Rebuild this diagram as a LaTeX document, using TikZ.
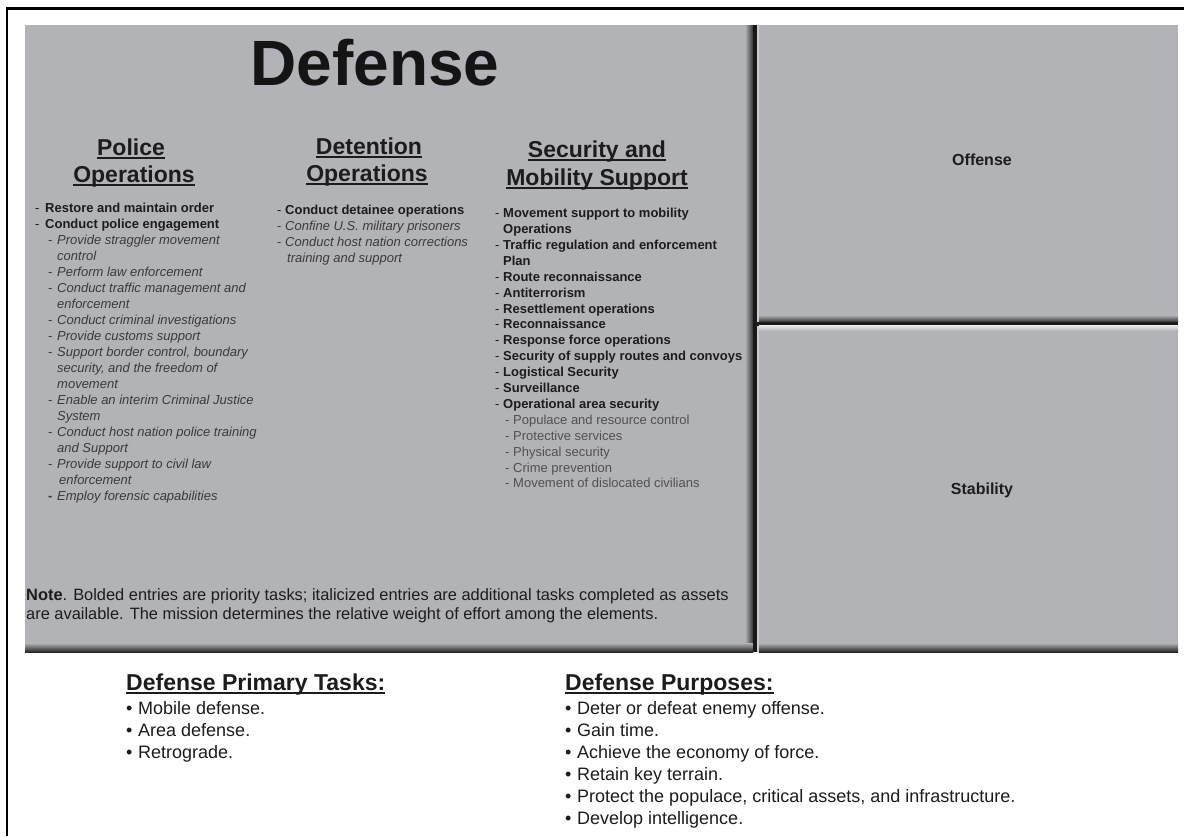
\documentclass[tikz,border=0pt]{standalone}
\usepackage{fontspec}
\setmainfont{Liberation Sans}
\definecolor{panelgray}{RGB}{178,179,183}
\definecolor{inkdark}{RGB}{28,28,30}
\definecolor{inkital}{RGB}{58,58,62}
\definecolor{inklight}{RGB}{80,80,84}
\newcommand{\ulx}[1]{\setbox0=\hbox{#1}\rlap{\rule[-4pt]{\wd0}{2pt}}\box0}
\newcommand{\pdash}{\makebox[10pt][l]{-}}
\newcommand{\sdash}{\hspace*{13pt}\makebox[9pt][l]{-}}
\newcommand{\cind}{\hspace*{22pt}}
\newcommand{\ddash}{\makebox[8pt][l]{-}}
\newcommand{\qdash}{\hspace*{10pt}\makebox[8pt][l]{-}}
\newcommand{\bul}{\makebox[12pt][l]{•}}
\begin{document}
\begin{tikzpicture}[x=1pt,y=-1pt,
  titletext/.style={font=\fontsize{64}{70}\selectfont\bfseries, text=black!92, inner sep=0, anchor=base},
  headtext/.style={font=\fontsize{23}{27}\selectfont\bfseries, text=inkdark, inner sep=0, anchor=base},
  tasklist/.style={font=\fontsize{13}{16}\selectfont, align=left, inner sep=0, anchor=north west, text=inkdark},
  notetext/.style={font=\fontsize{16.4}{19}\selectfont, inner sep=0, anchor=base west, text=inkdark},
  panellabel/.style={font=\fontsize{16}{19}\selectfont\bfseries, text=inkdark, inner sep=0},
  bighead/.style={font=\fontsize{23}{26}\selectfont\bfseries, text=inkdark, inner sep=0, anchor=base west},
  biglist/.style={font=\fontsize{18}{22}\selectfont, align=left, inner sep=0, anchor=north west, text=inkdark}]
\useasboundingbox (0,0) rectangle (1184,836);
\fill[white] (0,0) rectangle (1184,836);
% outer frame (left and top only)
\draw[line width=2.6pt] (7,836) -- (7,8.5) -- (1184,8.5);
% panels
\fill[panelgray] (25,25) rectangle (1178,652);
\shade[left color=panelgray, right color=black!80] (745,25) rectangle (753,652);
\shade[top color=panelgray, bottom color=black!85] (25,643) rectangle (753,652);
\fill[black!90] (753,25) rectangle (757,652);
\fill[white!35!panelgray] (757,25) rectangle (759,652);
\shade[top color=panelgray, bottom color=black!80] (759,315) rectangle (1178,322);
\fill[black!90] (757,322) rectangle (1178,325.5);
\shade[top color=white!70!panelgray, bottom color=panelgray] (759,325.5) rectangle (1178,331);
\shade[top color=panelgray, bottom color=black!85] (759,643) rectangle (1178,652);

% title
\node[titletext] (title) at (375,85) {Defense};
% column headings
\node[headtext] (polh1) at (131,155) {\ulx{Police}};
\node[headtext] (polh2) at (134,182) {\ulx{Operations}};
\node[headtext] (deth1) at (369,154) {\ulx{Detention}};
\node[headtext] (deth2) at (367,181) {\ulx{Operations}};
\node[headtext] (sech1) at (597,157) {\ulx{Security and}};
\node[headtext] (sech2) at (597,185) {\ulx{Mobility Support}};

% police list
\node[tasklist] (pollist) at (35,203) {%
\pdash\textbf{Restore and maintain order}\\
\pdash\textbf{Conduct police engagement}\\
{\color{inkital}\sdash\textit{Provide straggler movement}}\\
{\color{inkital}\cind\textit{control}}\\
{\color{inkital}\sdash\textit{Perform law enforcement}}\\
{\color{inkital}\sdash\textit{Conduct traffic management and}}\\
{\color{inkital}\cind\textit{enforcement}}\\
{\color{inkital}\sdash\textit{Conduct criminal investigations}}\\
{\color{inkital}\sdash\textit{Provide customs support}}\\
{\color{inkital}\sdash\textit{Support border control, boundary}}\\
{\color{inkital}\cind\textit{security, and the freedom of}}\\
{\color{inkital}\cind\textit{movement}}\\
{\color{inkital}\sdash\textit{Enable an interim Criminal Justice}}\\
{\color{inkital}\cind\textit{System}}\\
{\color{inkital}\sdash\textit{Conduct host nation police training}}\\
{\color{inkital}\cind\textit{and Support}}\\
{\color{inkital}\sdash\textit{Provide support to civil law}}\\
{\color{inkital}\hspace*{24pt}\textit{enforcement}}\\
{\color{inkital}\hspace*{13pt}\makebox[9pt][l]{\textbf{-}}\textit{Employ forensic capabilities}}};

% detention list
\node[tasklist] (detlist) at (277,205) {%
\ddash\textbf{Conduct detainee operations}\\
{\color{inkital}\ddash\textit{Confine U.S. military prisoners}}\\
{\color{inkital}\ddash\textit{Conduct host nation corrections}}\\
{\color{inkital}\hspace*{10pt}\textit{training and support}}};

% security list
\node[tasklist, font=\fontsize{13}{15.9}\selectfont] (seclist) at (495,208) {%
\ddash\textbf{Movement support to mobility}\\
\hspace*{8pt}\textbf{Operations}\\
\ddash\textbf{Traffic regulation and enforcement}\\
\hspace*{8pt}\textbf{Plan}\\
\ddash\textbf{Route reconnaissance}\\
\ddash\textbf{Antiterrorism}\\
\ddash\textbf{Resettlement operations}\\
\ddash\textbf{Reconnaissance}\\
\ddash\textbf{Response force operations}\\
\ddash\textbf{Security of supply routes and convoys}\\
\ddash\textbf{Logistical Security}\\
\ddash\textbf{Surveillance}\\
\ddash\textbf{Operational area security}\\
{\color{inklight}\qdash Populace and resource control}\\
{\color{inklight}\qdash Protective services}\\
{\color{inklight}\qdash Physical security}\\
{\color{inklight}\qdash Crime prevention}\\
{\color{inklight}\qdash Movement of dislocated civilians}};

% note
\node[notetext] (note1) at (26,600) {\textbf{Note}. Bolded entries are priority tasks; italicized entries are additional tasks completed as assets};
\node[notetext] (note2) at (26,619) {are available. The mission determines the relative weight of effort among the elements.};

% right panels
\node[panellabel] (offense) at (982,160) {Offense};
\node[panellabel] (stability) at (982,490) {Stability};

% bottom lists
\node[bighead] (pth) at (126,690) {\ulx{Defense Primary Tasks:}};
\node[biglist] (ptl) at (126,701) {%
\bul Mobile defense.\\
\bul Area defense.\\
\bul Retrograde.};
\node[bighead] (dph) at (565,690) {\ulx{Defense Purposes:}};
\node[biglist] (dpl) at (565,701) {%
\bul Deter or defeat enemy offense.\\
\bul Gain time.\\
\bul Achieve the economy of force.\\
\bul Retain key terrain.\\
\bul Protect the populace, critical assets, and infrastructure.\\
\bul Develop intelligence.};
\end{tikzpicture}
\end{document}
